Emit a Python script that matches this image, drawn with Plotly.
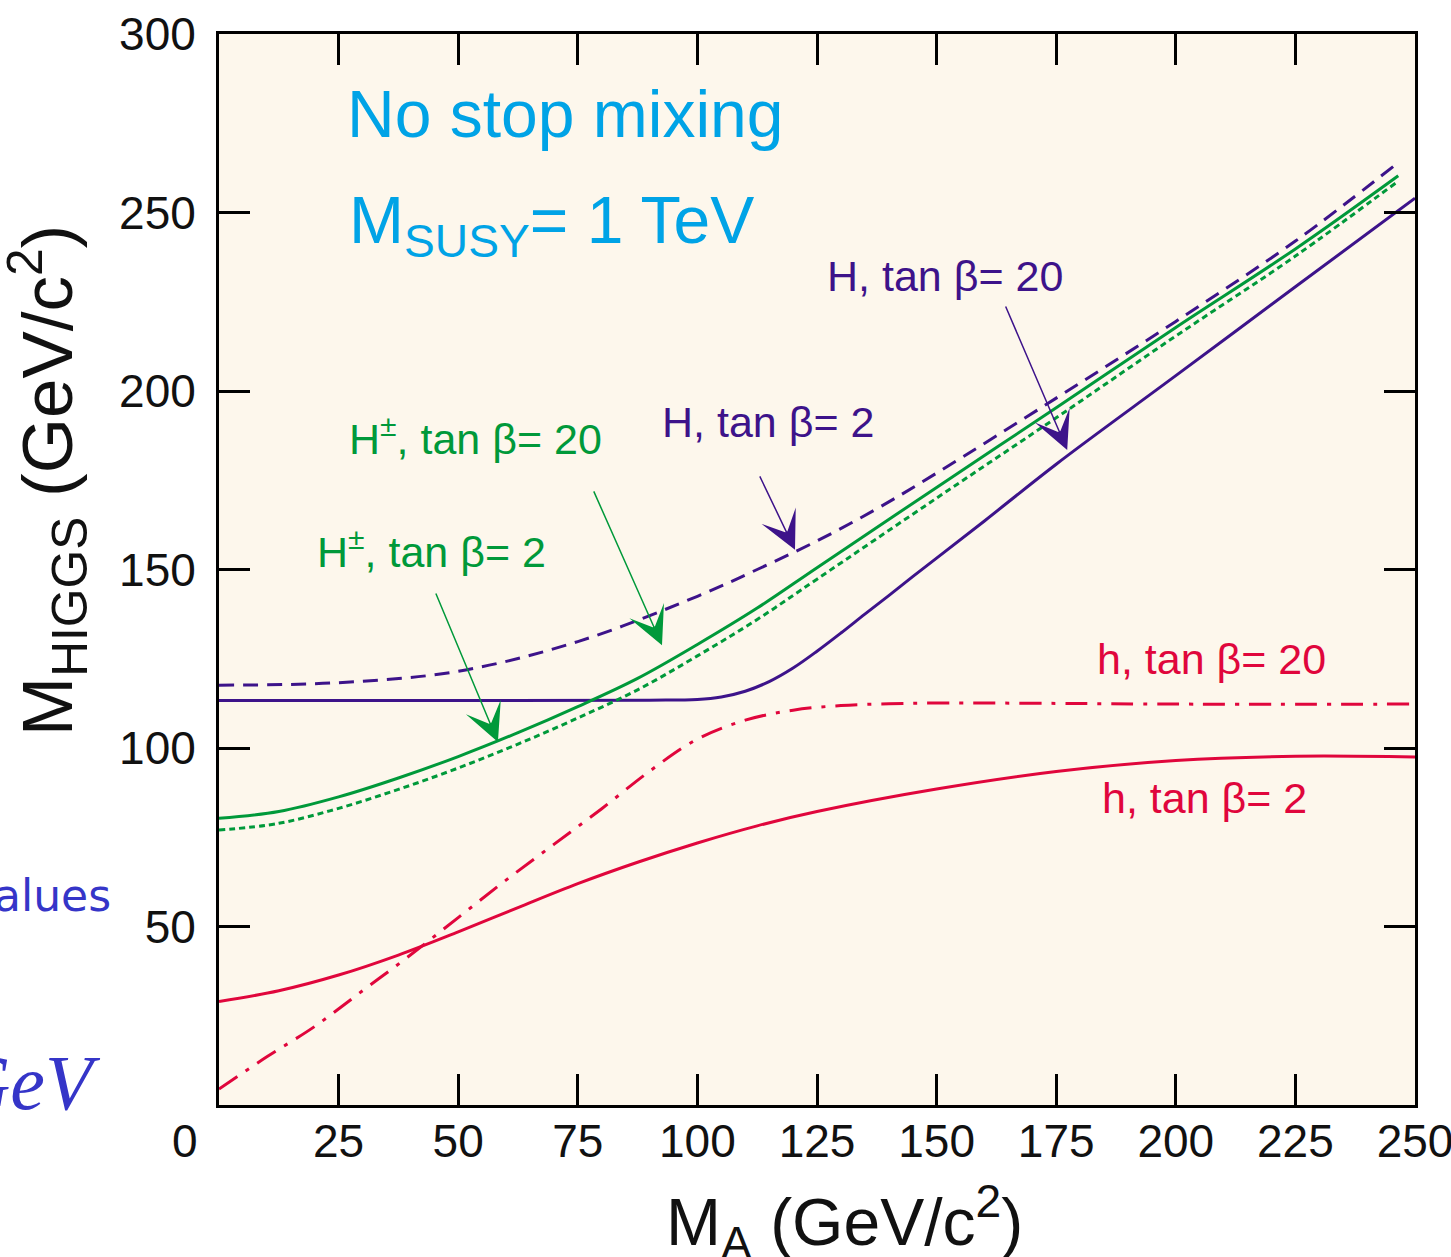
import plotly.graph_objects as go

# ---- curve values: M_A (GeV/c^2) and the corresponding Higgs mass (GeV/c^2) ----
# h, tan beta = 2  (solid red)
ma_h2 = [0, 12.5, 25, 37.5, 50, 62.5, 75, 87.5, 100, 112.5, 125, 150, 175, 200, 225, 250]
mh_h2 = [29, 32, 36.4, 42, 48.5, 55.3, 62, 68, 73.4, 78.2, 82.2, 88.5, 93.4, 96.5, 97.7, 97.5]

# h, tan beta = 20  (dash-dot red)
ma_h20 = [0, 10, 20, 30, 40, 50, 60, 70, 80, 90, 100, 110, 120, 130, 140, 150, 175, 200, 250]
mh_h20 = [4.5, 13.5, 22, 32, 42, 52.5, 63, 73, 83, 93.5, 102.5, 107.8, 110.6, 111.9, 112.4,
          112.6, 112.5, 112.3, 112.3]

# H, tan beta = 2  (dashed purple)
ma_H2 = [0, 25, 50, 75, 100, 112.5, 125, 137.5, 150, 175, 200, 225, 246.5]
mH_H2 = [117.6, 118.3, 121.5, 129.8, 142.5, 150, 158, 167, 177, 198, 219.5, 242, 264]

# H, tan beta = 20  (solid purple)
ma_H20 = [0, 50, 90, 100, 105, 110, 115, 120, 125, 130, 135, 140, 145, 150, 160, 175, 200, 225, 250]
mH_H20 = [113.3, 113.3, 113.4, 113.6, 114.3, 115.9, 118.6, 122.4, 127.1, 132.2, 137.5, 142.7,
          148, 153.2, 163.6, 179.5, 204.3, 229.2, 254]

# H+-, tan beta = 20  (solid green)
ma_Hc20 = [0, 12.5, 25, 37.5, 50, 62.5, 75, 87.5, 100, 112.5, 125, 150, 175, 200, 225, 246.5]
mHc_Hc20 = [80.3, 82.2, 86.3, 91.6, 97.6, 104.3, 111.6, 119.5, 129, 139.2, 150.5, 173,
            195.3, 217.8, 239.8, 260.3]

# H+-, tan beta = 2  (dotted green)
ma_Hc2 = [0, 12.5, 25, 37.5, 50, 62.5, 75, 87.5, 100, 112.5, 125, 150, 175, 200, 225, 246.5]
mHc_Hc2 = [77, 78.9, 83.1, 88.4, 94.4, 101.1, 108.4, 116.3, 125.8, 136, 147.3, 170,
           192.5, 215.4, 237.8, 258.8]

# axis ticks
x_ticks = [25, 50, 75, 100, 125, 150, 175, 200, 225, 250]
y_ticks = [50, 100, 150, 200, 250, 300]

RED = "#E0063C"
PURPLE = "#3D138A"
GREEN = "#00993A"
CYAN = "#00A3E6"
FONT = "Liberation Sans, Arial, sans-serif"

W, H = 1451, 1257
ML, MR, MT, MB = 219, 36, 34, 152
PW, PH = W - ML - MR, H - MT - MB


def px_x(p):
    return (p - ML) / PW


def px_y(p):
    return (H - MB - p) / PH


fig = go.Figure()


def curve(x, y, color, dash="solid", width=3):
    fig.add_trace(go.Scatter(
        x=x, y=y, mode="lines", hoverinfo="skip", showlegend=False,
        line=dict(color=color, width=width, dash=dash, shape="spline", smoothing=1.0),
    ))


curve(ma_h2, mh_h2, RED)
curve(ma_h20, mh_h20, RED, dash="22px,10px,4px,10px")
curve(ma_H20, mH_H20, PURPLE)
curve(ma_H2, mH_H2, PURPLE, dash="15px,9px")
curve(ma_Hc20, mHc_Hc20, GREEN)
curve(ma_Hc2, mHc_Hc2, GREEN, dash="6px,4px")

annotations = []


def label(text, x, y, color, size=43):
    annotations.append(dict(
        x=x, y=y, xref="x", yref="y", text=text, showarrow=False,
        xanchor="left", yanchor="middle",
        font=dict(family=FONT, size=size, color=color),
    ))


def arrow(x_tail, y_tail, x_head, y_head, color):
    annotations.append(dict(
        x=x_head, y=y_head, ax=x_tail, ay=y_tail,
        xref="x", yref="y", axref="x", ayref="y",
        text="", showarrow=True, arrowhead=3, arrowsize=4.2,
        arrowwidth=1.5, arrowcolor=color, standoff=0, startstandoff=0,
    ))


label("H, tan \u03b2= 20", 126.7, 232.3, PURPLE)
label("H, tan \u03b2= 2", 92.2, 191.3, PURPLE)
label("H<sup>\u00b1</sup>, tan \u03b2= 20", 26.8, 187.5, GREEN)
label("H<sup>\u00b1</sup>, tan \u03b2= 2", 20.1, 155.8, GREEN)
label("h, tan \u03b2= 20", 183.1, 124.9, RED)
label("h, tan \u03b2= 2", 184.2, 85.9, RED)
label("No stop mixing", 26.3, 277.6, CYAN, size=66)
label("M<sub>SUSY</sub>= 1 TeV", 26.8, 246.6, CYAN, size=66)

arrow(164.3, 224.1, 177.3, 183.5, PURPLE)
arrow(112.9, 176.5, 120.4, 155.5, PURPLE)
arrow(78.2, 172.3, 92.6, 128.8, GREEN)
arrow(45.2, 143.7, 58.3, 101.7, GREEN)

# shared origin label
annotations.append(dict(
    x=px_x(185), y=px_y(1141), xref="paper", yref="paper", text="0", showarrow=False,
    xanchor="center", yanchor="middle", font=dict(family=FONT, size=46, color="#111111"),
))

# axis titles
annotations.append(dict(
    x=px_x(844), y=px_y(1222), xref="paper", yref="paper",
    text="M<sub>A</sub> (GeV/c<sup>2</sup>)", showarrow=False,
    xanchor="center", yanchor="middle", font=dict(family=FONT, size=66, color="#111111"),
))
annotations.append(dict(
    x=px_x(48), y=px_y(481), xref="paper", yref="paper",
    text="M<sub>HIGGS</sub> (GeV/c<sup>2</sup>)", showarrow=False, textangle=-90,
    xanchor="center", yanchor="middle", font=dict(family=FONT, size=71, color="#111111"),
))

# slide text running in from the left edge
annotations.append(dict(
    x=px_x(113), y=px_y(895), xref="paper", yref="paper", text="values", showarrow=False,
    xanchor="right", yanchor="middle", font=dict(family="DejaVu Sans", size=44, color="#3535C8"),
))
annotations.append(dict(
    x=px_x(103), y=px_y(1082), xref="paper", yref="paper", text="<i>GeV</i>", showarrow=False,
    xanchor="right", yanchor="middle", font=dict(family="Liberation Serif", size=78, color="#3535C8"),
))

axis_common = dict(
    showgrid=False, zeroline=False, showline=True, linewidth=3, linecolor="black",
    mirror="ticks", ticks="inside", ticklen=31, tickwidth=3, tickcolor="black",
    tickfont=dict(family=FONT, size=46, color="#111111"), ticklabeloverflow="allow",
    automargin=False,
)

fig.update_layout(
    width=W, height=H,
    margin=dict(l=ML, r=MR, t=MT, b=MB),
    paper_bgcolor="white", plot_bgcolor="#FDF7EC",
    xaxis=dict(range=[0, 250], tickvals=x_ticks, ticklabelstandoff=-6, **axis_common),
    yaxis=dict(range=[0, 300], tickvals=y_ticks, ticklabelstandoff=11, **axis_common),
    annotations=annotations,
    hovermode=False,
)

fig.write_html("out.html", config=dict(displayModeBar=False))
